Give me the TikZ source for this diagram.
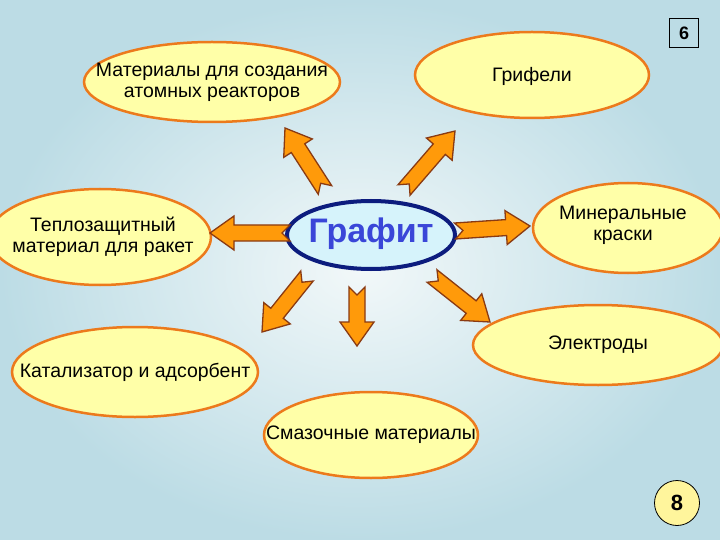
\documentclass[tikz,border=0pt]{standalone}
\usepackage{fontspec}
\setmainfont{Liberation Sans}
\usetikzlibrary{shapes.geometric,calc}

\definecolor{bgin}{HTML}{F2F8F9}
\definecolor{bgout}{HTML}{BCDCE5}
\definecolor{elfill}{HTML}{FFFFA8}
\definecolor{elline}{HTML}{EC7A1C}
\definecolor{grfill}{HTML}{D6F3FB}
\definecolor{grline}{HTML}{0C1C7E}
\definecolor{grtext}{HTML}{3A46D8}
\definecolor{arfill}{HTML}{FF9A0A}
\definecolor{arline}{HTML}{8A3A12}
\definecolor{numfill}{HTML}{FFF59C}

% block arrow with notched tail, from #1 to #2
\newcommand\garrow[2]{%
  \coordinate (hb) at ($(#2)!24pt!(#1)$);
  \coordinate (nt) at ($(#1)!8pt!(#2)$);
  \filldraw[arr] ($(#1)!8pt!90:(#2)$) -- ($(hb)!8pt!-90:(#1)$)
    -- ($(hb)!17pt!-90:(#1)$) -- (#2) -- ($(hb)!17pt!90:(#1)$)
    -- ($(hb)!8pt!90:(#1)$) -- ($(#1)!8pt!-90:(#2)$) -- (nt) -- cycle;}

\begin{document}
\begin{tikzpicture}[x=1pt, y=-1pt, inner sep=0pt]
    \tikzstyle{app}=[ellipse, fill=elfill, draw=elline, line width=2.5pt]
    \tikzstyle{txt}=[align=center, font=\fontsize{19.5}{21}\selectfont]
    \tikzstyle{gra}=[ellipse, fill=grfill, draw=grline, line width=4pt]
    \tikzstyle{grt}=[text=grtext, font=\bfseries\fontsize{34}{36}\selectfont]
    \tikzstyle{arr}=[fill=arfill, draw=arline, line width=1.3pt, line join=miter]

    \useasboundingbox (0,0) rectangle (720,540);
    \shade[inner color=bgin, outer color=bgout] (0,0) rectangle (720,540);

    % application ellipses
    \node[app, minimum width=256pt, minimum height=80pt] (mat) at (212,82) {};
    \node[app, minimum width=234pt, minimum height=86pt] (gri) at (532,75) {};
    \node[app, minimum width=222pt, minimum height=96pt] (tep) at (100,237) {};
    \node[app, minimum width=190pt, minimum height=90pt] (min) at (628,228) {};
    \node[app, minimum width=250pt, minimum height=80pt] (ele) at (598,345) {};
    \node[app, minimum width=246pt, minimum height=90pt] (kat) at (135,372) {};
    \node[app, minimum width=214pt, minimum height=86pt] (sma) at (371,435) {};
    \node[gra, minimum width=168pt, minimum height=68pt] (graf) at (371,235) {};

    \node[txt] (matt) at (mat) {Материалы для создания\\атомных реакторов};
    \node[txt] (grit) at ([yshift=-1pt] gri) {Грифели};
    \node[txt] (tept) at ([xshift=3pt] tep) {Теплозащитный\\материал для ракет};
    \node[txt] (mint) at ([xshift=-5pt, yshift=3pt] min) {Минеральные\\краски};
    \node[txt] (elet) at (ele) {Электроды};
    \node[txt] (katt) at (kat) {Катализатор и адсорбент};
    \node[txt] (smat) at (sma) {Смазочные материалы};
    \node[grt] (graft) at ([yshift=1pt] graf) {Графит};

    \node[draw, line width=1pt, minimum size=29pt, font=\bfseries\fontsize{18}{18}\selectfont] (pg) at (684,33) {6};
    \node[circle, draw, line width=0.8pt, fill=numfill, minimum size=45pt, font=\bfseries\fontsize{22}{22}\selectfont] (num) at (677,503) {8};

    \coordinate (a1t) at (325,190); \coordinate (a1h) at (285,128);
    \coordinate (a2t) at (404,190); \coordinate (a2h) at (455,131);
    \coordinate (a3t) at (290,233); \coordinate (a3h) at (210,233);
    \coordinate (a4t) at (455,231); \coordinate (a4h) at (530,226);
    \coordinate (a5t) at (307,276); \coordinate (a5h) at (262,332);
    \coordinate (a6t) at (357,287); \coordinate (a6h) at (357,346);
    \coordinate (a7t) at (432,276); \coordinate (a7h) at (490,322);

    \garrow{a1t}{a1h}
    \garrow{a2t}{a2h}
    \garrow{a3t}{a3h}
    \garrow{a4t}{a4h}
    \garrow{a5t}{a5h}
    \garrow{a6t}{a6h}
    \garrow{a7t}{a7h}
\end{tikzpicture}
\end{document}
